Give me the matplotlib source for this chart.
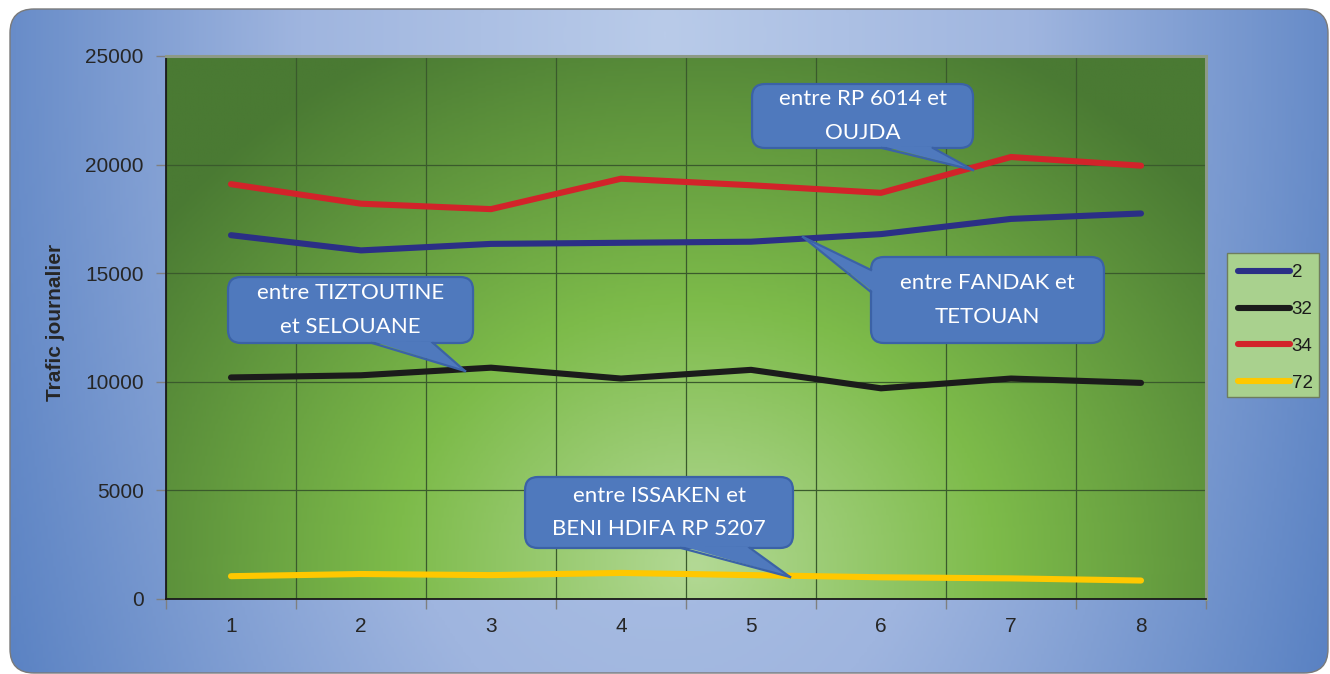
import numpy as np
import matplotlib.pyplot as plt
import matplotlib.transforms as mtransforms
from matplotlib.colors import LinearSegmentedColormap
from matplotlib.patches import FancyBboxPatch, Polygon, Rectangle
from matplotlib.lines import Line2D

# data
categories = [1, 2, 3, 4, 5, 6, 7, 8]
route_2 = [16750, 16050, 16350, 16400, 16450, 16800, 17500, 17750]
route_32 = [10200, 10300, 10650, 10150, 10550, 9700, 10150, 9950]
route_34 = [19100, 18200, 17950, 19350, 19050, 18700, 20350, 19950]
route_72 = [1050, 1150, 1100, 1200, 1100, 1000, 950, 850]
series_names = ["2", "32", "34", "72"]
series_colors = ["#2b2f86", "#1b1b1b", "#d2232a", "#ffc800"]
y_ticks = [0, 5000, 10000, 15000, 20000, 25000]

# callouts: text, box (x0, x1, y0, y1), tail base (2 points), tail tip -- data coords
callouts = [
    ("entre TIZTOUTINE\net SELOUANE", (0.977, 2.862, 11786, 14825),
     [(2.085, 11786), (2.554, 11786)], (2.80, 10497)),
    ("entre RP 6014 et\nOUJDA", (5.008, 6.708, 20764, 23710),
     [(6.008, 20764), (6.40, 20764)], (6.708, 19751)),
    ("entre FANDAK et\nTETOUAN", (5.923, 7.715, 11786, 15746),
     [(5.923, 15147), (5.923, 14134)], (5.40, 16666)),
    ("entre ISSAKEN et\nBENI HDIFA RP 5207", (3.262, 5.323, 2348, 5617),
     [(4.462, 2348), (4.992, 2348)], (5.30, 1013)),
]

W, H = 1330, 674
fig = plt.figure(figsize=(W / 100, H / 100), dpi=100)
fig.patch.set_facecolor("white")
pix = mtransforms.IdentityTransform()

# blue rounded background
bg = fig.add_axes([0, 0, 1, 1], zorder=0)
bg.set_axis_off()
X, Y = np.meshgrid(np.linspace(0, 1, 500), np.linspace(0, 1, 250))
d = np.clip(np.sqrt(((X - 0.5) / 0.55) ** 2 + ((Y - 0.95) / 2.2) ** 2), 0, 1)
blue = LinearSegmentedColormap.from_list("b", ["#b9cbe9", "#9fb5df", "#5a82c3"])
im = bg.imshow(d, cmap=blue, extent=[0, 1, 0, 1], origin="lower", aspect="auto",
               vmin=0, vmax=1)
bg.set_xlim(0, 1)
bg.set_ylim(0, 1)
frame = FancyBboxPatch((10, 1), 1318, 664, boxstyle="round,pad=0,rounding_size=24",
                       transform=pix, facecolor="none", edgecolor="#7a7a7a", lw=1)
im.set_clip_path(frame)
bg.add_patch(frame)
frame.set_transform(pix)

# legend box (drawn by hand so its width matches)
legbox = Rectangle((1227, H - 397), 92, 144, facecolor="#a9d18e",
                   edgecolor="#6e7d5e", lw=1, zorder=2)
bg.add_patch(legbox)
legbox.set_transform(pix)

# main axes
ax = fig.add_axes([166 / W, 75 / H, 1040 / W, 543 / H], zorder=1)
ax.patch.set_alpha(0)
ax.set_xlim(0.5, 8.5)
ax.set_ylim(0, 25000)

gx, gy = np.meshgrid(np.linspace(0, 1, 400), np.linspace(0, 1, 220))
gd = np.clip(np.sqrt(((gx - 0.51) / 0.64) ** 2 + ((gy - 0.06) / 1.08) ** 2), 0, 1)
green = LinearSegmentedColormap.from_list(
    "g", [(0, "#b3d995"), (0.45, "#7dbb4a"), (1, "#4a7a33")])
ax.imshow(gd, cmap=green, extent=[0.5, 8.5, 0, 25000], origin="lower",
          aspect="auto", vmin=0, vmax=1, zorder=0)

ax.set_axisbelow(True)
ax.set_xticks(np.arange(0.5, 9, 1))
ax.set_xticklabels([])
ax.set_xticks(categories, minor=True)
ax.set_xticklabels([str(c) for c in categories], minor=True)
ax.set_yticks(y_ticks)
ax.set_yticklabels([str(v) for v in y_ticks])
ax.tick_params(which="major", length=7, width=1, color="#7f7f7f",
               labelsize=15, labelcolor="#262626", pad=9)
ax.tick_params(axis="x", which="minor", length=0, pad=13,
               labelsize=15, labelcolor="#262626")
for lab in ax.get_xticklabels(minor=True) + ax.get_yticklabels():
    lab.set_fontfamily("Liberation Sans")
ax.grid(True, which="major", color="#3a5a2c", lw=0.9)

for s in ["left", "bottom"]:
    ax.spines[s].set_color("#1a1a1a")
    ax.spines[s].set_linewidth(1.3)
for s in ["top", "right"]:
    ax.spines[s].set_color("#8d9a86")
    ax.spines[s].set_linewidth(2.2)

ax.set_ylabel("Trafic journalier", fontsize=15, fontweight="bold",
              family="Liberation Sans", color="#262626")
ax.yaxis.set_label_coords(-0.097, 0.51)

all_series = [route_2, route_32, route_34, route_72]
for vals, col in zip(all_series, series_colors):
    ax.plot(categories, vals, color=col, lw=4.4, solid_capstyle="round",
            solid_joinstyle="round", zorder=3)

# callouts
fill, edge = "#4f79bd", "#3b62a6"
for text, (x0, x1, y0, y1), base, tip in callouts:
    p0 = ax.transData.transform((x0, y0))
    p1 = ax.transData.transform((x1, y1))
    box = FancyBboxPatch(p0, p1[0] - p0[0], p1[1] - p0[1],
                         boxstyle="round,pad=0,rounding_size=13",
                         facecolor=fill, edgecolor=edge, lw=1.6, zorder=5)
    ax.add_patch(box)
    box.set_transform(pix)
    box.set_clip_on(False)
    b = ax.transData.transform(base)
    t = ax.transData.transform(tip)
    # push the base a bit inside the box so it hides the border there
    c = (p0 + p1) / 2
    inner = [bb + (c - bb) / np.linalg.norm(c - bb) * 3 for bb in b]
    tail = Polygon([inner[0], t, inner[1]], closed=True, facecolor=fill,
                   edgecolor="none", zorder=6)
    ax.add_patch(tail)
    tail.set_transform(pix)
    tail.set_clip_on(False)
    for bb in b:
        ln = Line2D([bb[0], t[0]], [bb[1], t[1]], color=edge, lw=1.6, zorder=6)
        ax.add_line(ln)
        ln.set_transform(pix)
        ln.set_clip_on(False)
    ax.text((x0 + x1) / 2, (y0 + y1) / 2, text, ha="center", va="center",
            color="white", fontsize=16, family="Lato", linespacing=1.85, zorder=7)

handles = [Line2D([], [], color=c, lw=4.4, solid_capstyle="round") for c in series_colors]
leg = fig.legend(handles, series_names, loc="upper left",
                 bbox_to_anchor=(1227 / W, 1 - 253 / H), borderaxespad=0,
                 frameon=False, handlelength=2.75,
                 handletextpad=0.1, labelspacing=1.05, borderpad=0.6,
                 prop={"family": "Liberation Sans", "size": 13.5})
leg.set_zorder(3)
for txt in leg.get_texts():
    txt.set_color("#1a1a1a")

fig.savefig("out.png", dpi=100)
